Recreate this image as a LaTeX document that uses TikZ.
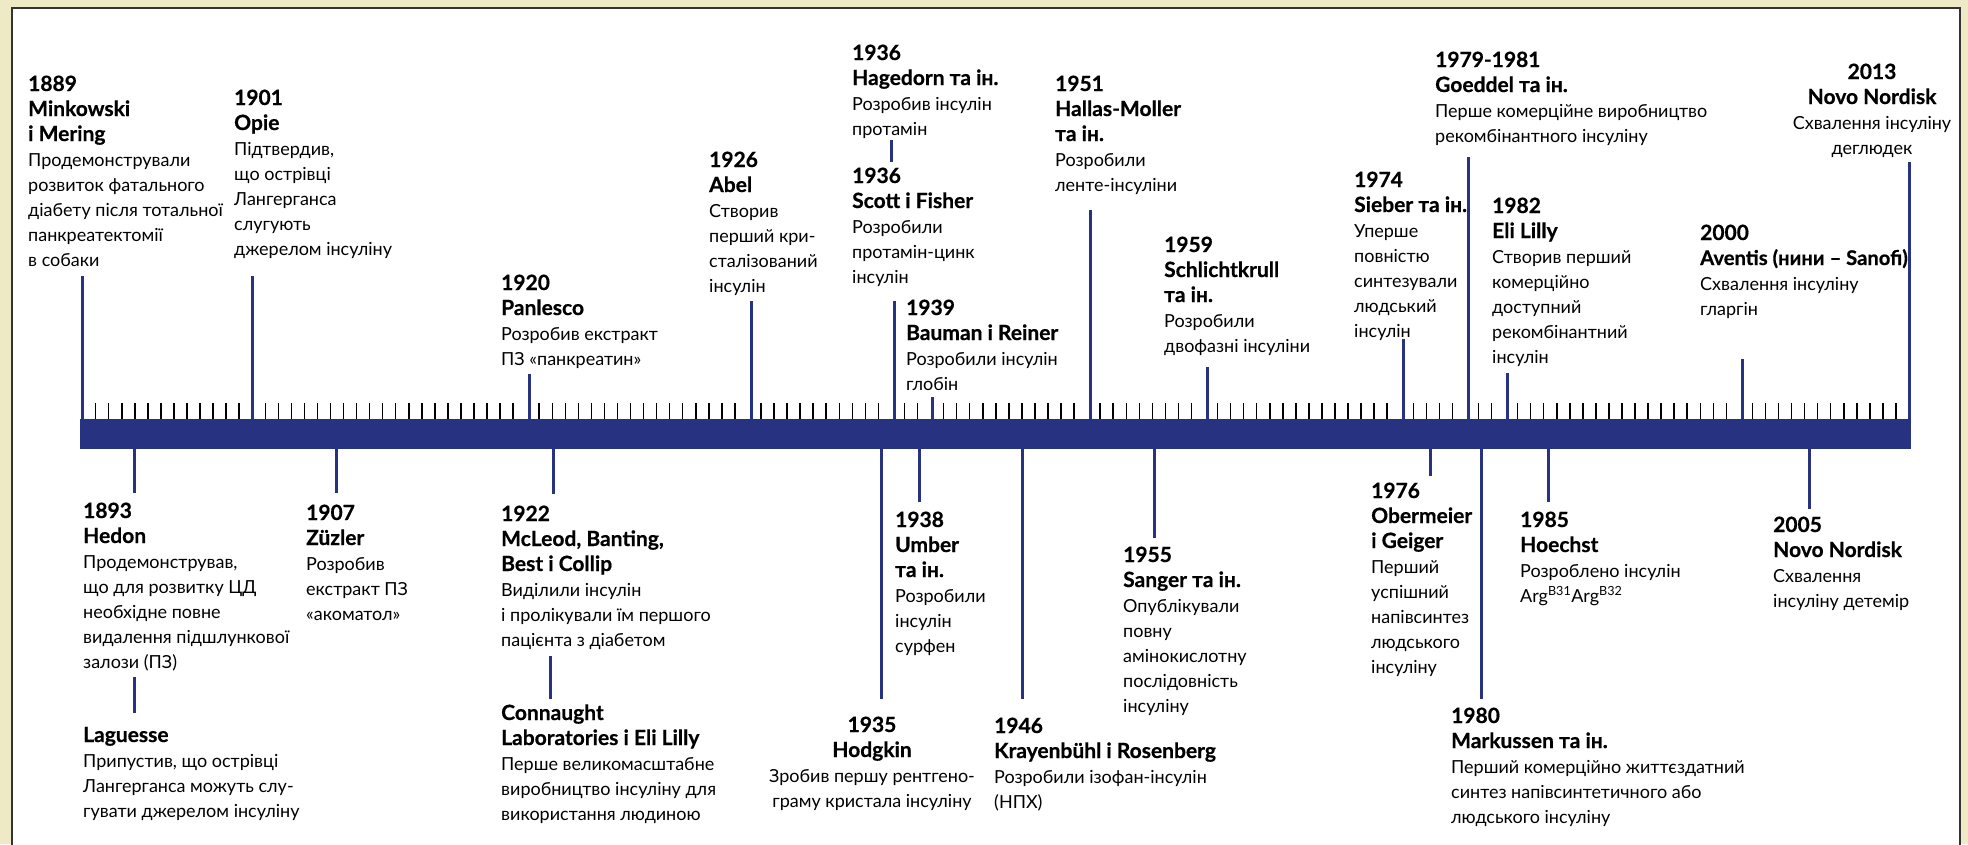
\documentclass[tikz,border=0pt]{standalone}
\usepackage{fontspec}
\setmainfont{Lato}[BoldFeatures={FakeBold=0.6}]
\definecolor{beige}{RGB}{238,234,198}
\definecolor{navy}{RGB}{39,51,128}
\newcommand\hb[1]{{\fontsize{21}{25}\selectfont\bfseries #1}}
\newcommand\hbs[1]{{\fontsize{20.2}{25}\selectfont\bfseries #1}}
\newcommand\tl[1]{\begin{tabular}[t]{@{}l@{}}#1\end{tabular}}
\newcommand\tcen[1]{\begin{tabular}[t]{@{}c@{}}#1\end{tabular}}
\tikzset{
  evtext/.style={anchor=base west, inner sep=0pt, font=\fontsize{18}{25}\selectfont},
  evtextc/.style={anchor=base, inner sep=0pt, font=\fontsize{18}{25}\selectfont},
  evline/.style={draw=navy, line width=3pt},
  tickmark/.style={draw=black, line width=1.5pt},
}
\begin{document}
\begin{tikzpicture}[x=1pt,y=-1pt]
\useasboundingbox (0,0) rectangle (1968,844);
\fill[beige] (0,0) rectangle (1968,844);
\draw[fill=white, draw=black!80, line width=1.5pt] (12,8) rectangle (1960,860);
% bar
\node[fill=navy, inner sep=0pt, minimum width=1831pt, minimum height=30pt, anchor=north west] (bar) at (80,419) {};
% ticks
\foreach \k in {0,...,138}{
  \pgfmathsetmacro\tx{95.7+13.045*\k}
  \foreach \lx in {82,252,529,751,894,932,1090,1207,1403,1468,1507,1742,1909}{
    \pgfmathparse{abs(\tx-\lx)<6.5?1:0}
    \ifnum\pgfmathresult=1 \global\def\skiptick{1}\fi
  }
  \ifx\skiptick\undefined \draw[tickmark] (\tx,403) -- (\tx,419);\else\global\let\skiptick\undefined\fi
}
% lines above
\foreach \x/\t in {82/276,252/276,529/374,751/301,894/301,932/397,1090/210,1207/367,1403/339,1468/157,1507/373,1742/359,1909/162}{
  \coordinate (u\x) at (\x,\t);
  \draw[evline] (u\x) -- (\x,419);
}
% lines below
\foreach \x/\b in {134/493,336/493,553/494,881/699,919/502,1022/699,1154/538,1430/476,1481/699,1548/502,1809/509}{
  \coordinate (d\x) at (\x,\b);
  \draw[evline] (\x,449) -- (d\x);
}
\coordinate (c1a) at (891,140); \coordinate (c1b) at (891,162);
\draw[evline] (c1a) -- (c1b);
\coordinate (c2a) at (134,677); \coordinate (c2b) at (134,713);
\draw[evline] (c2a) -- (c2b);
\coordinate (c3a) at (550,656); \coordinate (c3b) at (550,699);
\draw[evline] (c3a) -- (c3b);
% upper texts
\node[evtext] (t1889) at (28,91) {\tl{\hb{1889}\\\hb{Minkowski}\\\hb{i Mering}\\Продемонстрували\\розвиток фатального\\діабету після тотальної\\панкреатектомії\\в собаки}};
\node[evtext] (t1901) at (234,105) {\tl{\hb{1901}\\\hb{Opie}\\Підтвердив,\\що острівці\\Лангерганса\\слугують\\джерелом інсуліну}};
\node[evtext] (t1920) at (501,290) {\tl{\hb{1920}\\\hb{Panlesco}\\Розробив екстракт\\ПЗ «панкреатин»}};
\node[evtext] (t1926) at (709,167) {\tl{\hb{1926}\\\hb{Abel}\\Створив\\перший кри-\\сталізований\\інсулін}};
\node[evtext] (t1936a) at (852,60) {\tl{\hb{1936}\\\hb{Hagedorn та ін.}\\Розробив інсулін\\протамін}};
\node[evtext] (t1936b) at (852,183) {\tl{\hb{1936}\\\hb{Scott i Fisher}\\Розробили\\протамін-цинк\\інсулін}};
\node[evtext] (t1939) at (906,315) {\tl{\hb{1939}\\\hb{Bauman i Reiner}\\Розробили інсулін\\глобін}};
\node[evtext] (t1951) at (1055,91) {\tl{\hb{1951}\\\hb{Hallas-Moller}\\\hb{та ін.}\\Розробили\\ленте-інсуліни}};
\node[evtext] (t1959) at (1164,252) {\tl{\hb{1959}\\\hb{Schlichtkrull}\\\hb{та ін.}\\Розробили\\двофазні інсуліни}};
\node[evtext] (t1974) at (1354,187) {\tl{\hb{1974}\\\hb{Sieber та ін.}\\Уперше\\повністю\\синтезували\\людський\\інсулін}};
\node[evtext] (t1979) at (1435,67) {\tl{\hb{1979-1981}\\\hb{Goeddel та ін.}\\Перше комерційне виробництво\\рекомбінантного інсуліну}};
\node[evtext] (t1982) at (1492,213) {\tl{\hb{1982}\\\hb{Eli Lilly}\\Створив перший\\комерційно\\доступний\\рекомбінантний\\інсулін}};
\node[evtext] (t2000) at (1700,240) {\tl{\hb{2000}\\\hbs{Aventis (нини – Sanofi)}\\Схвалення інсуліну\\гларгін}};
\node[evtextc] (t2013) at (1872,79) {\tcen{\hb{2013}\\\hb{Novo Nordisk}\\Схвалення інсуліну\\деглюдек}};
% lower texts
\node[evtext] (t1893) at (83,518) {\tl{\hb{1893}\\\hb{Hedon}\\Продемонстрував,\\що для розвитку ЦД\\необхідне повне\\видалення підшлункової\\залози (ПЗ)}};
\node[evtext] (tlag) at (83,742) {\tl{\hb{Laguesse}\\Припустив, що острівці\\Лангерганса можуть слу-\\гувати джерелом інсуліну}};
\node[evtext] (t1907) at (306,520) {\tl{\hb{1907}\\\hb{Züzler}\\Розробив\\екстракт ПЗ\\«акоматол»}};
\node[evtext] (t1922) at (501,521) {\tl{\hb{1922}\\\hb{McLeod, Banting,}\\\hb{Best i Collip}\\Виділили інсулін\\і пролікували їм першого\\пацієнта з діабетом}};
\node[evtext] (tcon) at (501,720) {\tl{\hb{Connaught}\\\hb{Laboratories i Eli Lilly}\\Перше великомасштабне\\виробництво інсуліну для\\використання людиною}};
\node[evtextc] (t1935) at (872,732) {\tcen{\hb{1935}\\\hb{Hodgkin}\\Зробив першу рентгено-\\граму кристала інсуліну}};
\node[evtext] (t1938) at (895,527) {\tl{\hb{1938}\\\hb{Umber}\\\hb{та ін.}\\Розробили\\інсулін\\сурфен}};
\node[evtext] (t1946) at (994,733) {\tl{\hb{1946}\\\hb{Krayenbühl i Rosenberg}\\Розробили ізофан-інсулін\\(НПХ)}};
\node[evtext] (t1955) at (1123,562) {\tl{\hb{1955}\\\hb{Sanger та ін.}\\Опублікували\\повну\\амінокислотну\\послідовність\\інсуліну}};
\node[evtext] (t1976) at (1371,498) {\tl{\hb{1976}\\\hb{Obermeier}\\\hb{i Geiger}\\Перший\\успішний\\напівсинтез\\людського\\інсуліну}};
\node[evtext] (t1980) at (1451,723) {\tl{\hb{1980}\\\hb{Markussen та ін.}\\Перший комерційно життєздатний\\синтез напівсинтетичного або\\людського інсуліну}};
\node[evtext] (t1985) at (1520,527) {\tl{\hb{1985}\\\hb{Hoechst}\\Розроблено інсулін\\Arg\textsuperscript{B31}Arg\textsuperscript{B32}}};
\node[evtext] (t2005) at (1773,532) {\tl{\hb{2005}\\\hb{Novo Nordisk}\\Схвалення\\інсуліну детемір}};
\end{tikzpicture}
\end{document}
